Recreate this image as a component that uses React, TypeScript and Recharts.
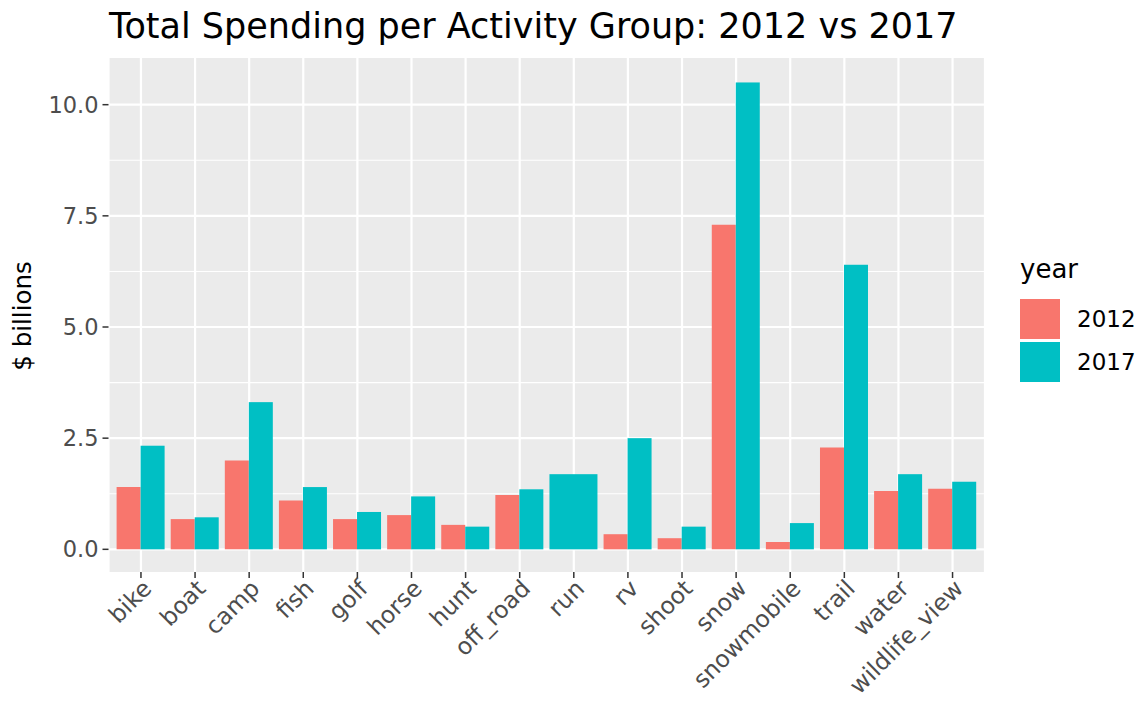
import {
  BarChart,
  Bar,
  XAxis,
  YAxis,
  CartesianGrid,
} from "recharts";

// activity groups, in axis order
const categories = [
  "bike", "boat", "camp", "fish", "golf", "horse", "hunt", "off_road",
  "run", "rv", "shoot", "snow", "snowmobile", "trail", "water", "wildlife_view",
];

// $ billions (run has no 2012 value)
const spend2012 = [1.4, 0.68, 2.0, 1.1, 0.68, 0.77, 0.55, 1.22, null, 0.34, 0.25, 7.3, 0.165, 2.29, 1.31, 1.36];
const spend2017 = [2.33, 0.72, 3.31, 1.4, 0.84, 1.19, 0.51, 1.35, 1.69, 2.5, 0.51, 10.5, 0.59, 6.4, 1.69, 1.52];

const years = ["2012", "2017"];
const yTicks = [0, 2.5, 5, 7.5, 10];
const yMinor = [1.25, 3.75, 6.25, 8.75];

const data = categories.map((activity, i) => ({
  activity,
  y2012: spend2012[i],
  y2017: spend2017[i],
}));

const COLORS = ["#F8766D", "#00BFC4"];
const FONT = "'DejaVu Sans', sans-serif";

// ggplot draws a lone bar across the whole dodge width
const Shape2017 = (props: any) => {
  const { x, y, width, height, payload, fill } = props;
  const solo = payload.y2012 == null;
  return (
    <rect
      x={solo ? x - width : x}
      y={y}
      width={solo ? width * 2 : width}
      height={height}
      fill={fill}
    />
  );
};

const XTick = (props: any) => {
  const { x, y, payload } = props;
  return (
    <g transform={`translate(${x + 12},${y + 10})`}>
      <text
        x={0}
        y={0}
        textAnchor="end"
        transform="rotate(-45)"
        fill="#4D4D4D"
        fontSize={23.5}
        fontFamily={FONT}
      >
        {payload.value}
      </text>
    </g>
  );
};

const YearLegend = () => (
  <div style={{ position: "absolute", left: 1020, top: 254, fontFamily: FONT, color: "#000" }}>
    <div style={{ fontSize: 26, lineHeight: "30px", marginBottom: 13 }}>year</div>
    {years.map((yr, i) => (
      <div key={yr} style={{ display: "flex", alignItems: "center", height: 43 }}>
        <div style={{ width: 40, height: 40, background: COLORS[i] }} />
        <span style={{ fontSize: 23, marginLeft: 17 }}>{yr}</span>
      </div>
    ))}
  </div>
);

const App = () => {
  return (
    <div style={{ position: "absolute", left: 0, top: 0, width: 1147, height: 703, background: "#fff" }}>
      <div
        style={{
          position: "absolute",
          left: 109,
          top: 9,
          fontFamily: FONT,
          fontSize: 35,
          lineHeight: "35px",
          color: "#000",
          whiteSpace: "nowrap",
        }}
      >
        Total Spending per Activity Group: 2012 vs 2017
      </div>
      <div
        style={{
          position: "absolute",
          left: 22,
          top: 316,
          transform: "translate(-50%, -50%) rotate(-90deg)",
          fontFamily: FONT,
          fontSize: 24.5,
          color: "#000",
          whiteSpace: "nowrap",
        }}
      >
        $ billions
      </div>
      <BarChart
        width={1147}
        height={703}
        data={data}
        margin={{ top: 58, right: 162, bottom: 0, left: 0 }}
        barCategoryGap="5%"
        barGap={0}
      >
        <CartesianGrid
          fill="#EBEBEB"
          stroke="#FFFFFF"
          strokeWidth={1.1}
          vertical={false}
          horizontalValues={yMinor}
        />
        <CartesianGrid
          stroke="#FFFFFF"
          strokeWidth={2.2}
          horizontalValues={yTicks}
        />
        <XAxis
          dataKey="activity"
          height={131}
          interval={0}
          padding={{ left: 5.4, right: 5.4 }}
          axisLine={false}
          tickSize={6}
          tickLine={{ stroke: "#333333", strokeWidth: 1.5 }}
          tick={<XTick />}
        />
        <YAxis
          width={108.5}
          type="number"
          domain={[-0.51, 11.05]}
          allowDataOverflow
          ticks={yTicks}
          tickFormatter={(v: number) => v.toFixed(1)}
          axisLine={false}
          tickSize={6}
          tickMargin={4}
          tickLine={{ stroke: "#333333", strokeWidth: 1.5 }}
          tick={{ fill: "#4D4D4D", fontSize: 22.5, fontFamily: FONT }}
        />
        <Bar dataKey="y2012" name="2012" fill={COLORS[0]} isAnimationActive={false} />
        <Bar dataKey="y2017" name="2017" fill={COLORS[1]} shape={<Shape2017 />} isAnimationActive={false} />
      </BarChart>
      <YearLegend />
    </div>
  );
};

export default App;
